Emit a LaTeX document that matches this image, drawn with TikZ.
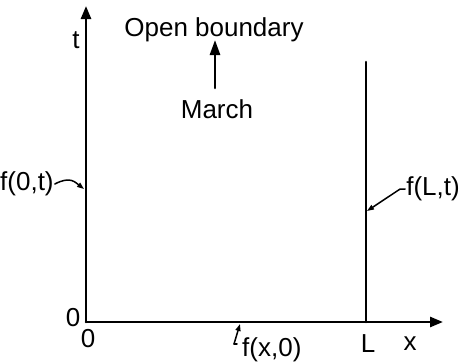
\documentclass[tikz,border=0pt]{standalone}
\usepackage{fontspec}
\setmainfont{Liberation Sans}
\usetikzlibrary{arrows.meta}
\begin{document}
\begin{tikzpicture}[x=1pt, y=-1pt, line cap=round, line join=round]
% x-t plane of the marching problem
\providecommand{\axisLineWidth}{2.6pt}
\providecommand{\pointerLineWidth}{1.5pt}
\tikzset{
  axisline/.style={draw=black, line width=\axisLineWidth},
  axisarrow/.style={axisline, -{Triangle[length=13pt, width=10pt]}},
  pointer/.style={draw=black, line width=\pointerLineWidth, -{Triangle[length=7pt, width=5pt]}},
  lbl/.style={inner sep=0pt, font=\fontsize{26}{30}\selectfont}
}
\useasboundingbox (0,0) rectangle (459,364);
% Corners of the domain
\coordinate (origin) at (86,322);
\coordinate (ttop) at (86,6);
\coordinate (xend) at (443,322);
\coordinate (Lbot) at (366,322);
\coordinate (Ltop) at (366,62);
% Axes and right boundary
\begin{scope}
  \draw[axisarrow] (origin) -- (ttop);
  \draw[axisarrow] (origin) -- (xend);
  \draw[axisline] (Lbot) -- (Ltop);
\end{scope}
% Axis labels
\node[lbl] (tlabel) at (76,40) {t};
\node[lbl] (xlabel) at (410,344) {x};
\node[lbl] (Llabel) at (368,344) {L};
\node[lbl] (zerot) at (73,318) {0};
\node[lbl] (zerox) at (88,339) {0};
% Top boundary and marching direction
\node[lbl] (openb) at (214,30) {Open boundary};
\node[lbl] (march) at (217,109) {March};
\coordinate (marchtail) at (215,88);
\coordinate (marchtip) at (215,40);
\draw[axisline, -{Triangle[length=15pt, width=10pt]}] (marchtail) -- (marchtip);
% Boundary values
\node[lbl, anchor=west] (fzero) at (0,184) {f(0,t)};
\node[lbl, anchor=east] (fL) at (460,189) {f(L,t)};
\node[lbl, anchor=west] (finit) at (242,350) {f(x,0)};
\coordinate (fzerotip) at (84,189);
\coordinate (fLtip) at (367,211);
\coordinate (finittip) at (240,324);
\coordinate (finittail) at (234,344);
\draw[pointer] ([xshift=1pt]fzero.east) .. controls (70,176) and (75,182) .. (fzerotip);
\draw[pointer] ([xshift=-1pt]fL.west) -- ++(-5,0) -- (fLtip);
\draw[draw=black, line width=\pointerLineWidth] ([xshift=3pt]finittail) -- (finittail);
\draw[pointer] (finittail) -- (finittip);
\end{tikzpicture}
\end{document}
